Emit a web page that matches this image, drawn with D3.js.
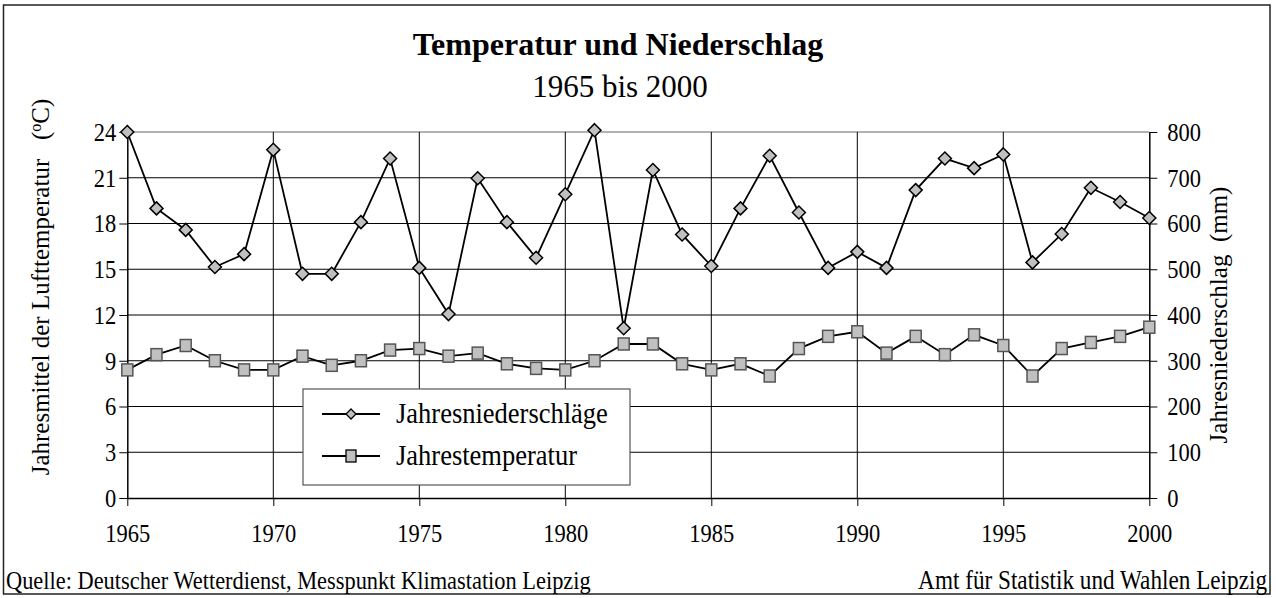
<!DOCTYPE html>
<html>
<head>
<meta charset="utf-8">
<script src="https://cdn.jsdelivr.net/npm/d3@7"></script>
<style>
  body { margin: 0; background: #fff; }
  svg text { font-family: "Liberation Serif", "Times New Roman", serif; fill: #000; }
</style>
</head>
<body>
<script>

// data
var years = [1965, 1966, 1967, 1968, 1969, 1970, 1971, 1972, 1973, 1974, 1975, 1976,
             1977, 1978, 1979, 1980, 1981, 1982, 1983, 1984, 1985, 1986, 1987, 1988,
             1989, 1990, 1991, 1992, 1993, 1994, 1995, 1996, 1997, 1998, 1999, 2000];

// Jahresniederschläge (mm), right axis
var precipitation = [800, 633, 586, 505, 533, 761, 490, 490, 603, 742, 503, 402,
                     699, 603, 525, 664, 804, 371, 717, 576, 507, 633, 748, 624,
                     503, 538, 503, 673, 742, 721, 751, 515, 577, 678, 647, 612];

// Jahrestemperatur (°C), left axis
var temperature = [8.4, 9.4, 10.0, 9.0, 8.4, 8.4, 9.3, 8.7, 9.0, 9.7, 9.8, 9.3,
                   9.5, 8.8, 8.5, 8.4, 9.0, 10.1, 10.1, 8.8, 8.4, 8.8, 8.0, 9.8,
                   10.6, 10.9, 9.5, 10.6, 9.4, 10.7, 10.0, 8.0, 9.8, 10.2, 10.6, 11.2];

var xTicks = [1965, 1970, 1975, 1980, 1985, 1990, 1995, 2000];
var leftTicks = [0, 3, 6, 9, 12, 15, 18, 21, 24];
var rightTicks = [0, 100, 200, 300, 400, 500, 600, 700, 800];

var w = 1276;
var h = 598;

// plot area
var plotLeft = 127.3, plotRight = 1149.3, plotTop = 132, plotBottom = 498;

// the source picture is a bit stretched vertically
var stretch = "scale(1,1.15)";

var svg = d3.select("body")
            .append("svg")
            .attr("width", w)
            .attr("height", h);

// outer frame
svg.append("rect")
   .attr("x", 3.5).attr("y", 5)
   .attr("width", 1266.5).attr("height", 589)
   .attr("fill", "#fff")
   .attr("stroke", "#222")
   .attr("stroke-width", 1.5);

var xScale = d3.scaleLinear().domain([1965, 2000]).range([plotLeft, plotRight]);
var yLeft = d3.scaleLinear().domain([0, 24]).range([plotBottom, plotTop]);
var yRight = d3.scaleLinear().domain([0, 800]).range([plotBottom, plotTop]);

// horizontal gridlines
svg.append("g")
   .selectAll("line")
   .data(leftTicks.slice(1, -1))
   .enter()
   .append("line")
   .attr("x1", plotLeft).attr("x2", plotRight)
   .attr("y1", function(d) { return yLeft(d); })
   .attr("y2", function(d) { return yLeft(d); })
   .attr("stroke", "#000")
   .attr("stroke-width", 1);

// top border of plot area (grey)
svg.append("line")
   .attr("x1", plotLeft).attr("x2", plotRight)
   .attr("y1", yLeft(24)).attr("y2", yLeft(24))
   .attr("stroke", "#999")
   .attr("stroke-width", 1.5);

// vertical gridlines
svg.append("g")
   .selectAll("line")
   .data(xTicks.slice(1, -1))
   .enter()
   .append("line")
   .attr("x1", function(d) { return xScale(d); })
   .attr("x2", function(d) { return xScale(d); })
   .attr("y1", plotTop).attr("y2", plotBottom)
   .attr("stroke", "#000")
   .attr("stroke-width", 1);

// axes
var xAxis = d3.axisBottom(xScale).tickValues(xTicks).tickSize(8).tickSizeOuter(0)
              .tickPadding(14).tickFormat(d3.format("d"));
var lAxis = d3.axisLeft(yLeft).tickValues(leftTicks).tickSize(8).tickSizeOuter(0).tickPadding(3);
var rAxis = d3.axisRight(yRight).tickValues(rightTicks).tickSize(8).tickSizeOuter(0).tickPadding(10);

function styleAxis(g) {
    g.select(".domain").attr("stroke", "#000").attr("stroke-width", 1.5);
    g.selectAll(".tick line").attr("stroke", "#000").attr("stroke-width", 1);
    g.selectAll(".tick text")
     .style("font-size", "22.5px")
     .attr("fill", "#000")
     .attr("transform", stretch);
}

svg.append("g")
   .attr("transform", "translate(0," + plotBottom + ")")
   .call(xAxis)
   .call(styleAxis);

svg.append("g")
   .attr("transform", "translate(" + plotLeft + ",0)")
   .call(lAxis)
   .call(styleAxis);

svg.append("g")
   .attr("transform", "translate(" + plotRight + ",0)")
   .call(rAxis)
   .call(styleAxis);

// lines
var precipLine = d3.line()
    .x(function(d, i) { return xScale(years[i]); })
    .y(function(d) { return yRight(d); });

var tempLine = d3.line()
    .x(function(d, i) { return xScale(years[i]); })
    .y(function(d) { return yLeft(d); });

svg.append("path")
   .datum(temperature)
   .attr("d", tempLine)
   .attr("fill", "none")
   .attr("stroke", "#000")
   .attr("stroke-width", 1.8);

svg.append("path")
   .datum(precipitation)
   .attr("d", precipLine)
   .attr("fill", "none")
   .attr("stroke", "#000")
   .attr("stroke-width", 1.8);

// markers
var diamond = "M0,-6.5L6.5,0L0,6.5L-6.5,0Z";

svg.append("g")
   .selectAll("rect")
   .data(temperature)
   .enter()
   .append("rect")
   .attr("x", function(d, i) { return xScale(years[i]) - 5.5; })
   .attr("y", function(d) { return yLeft(d) - 6; })
   .attr("width", 11)
   .attr("height", 12)
   .attr("fill", "#c0c0c0")
   .attr("stroke", "#555")
   .attr("stroke-width", 1.5);

svg.append("g")
   .selectAll("path")
   .data(precipitation)
   .enter()
   .append("path")
   .attr("d", diamond)
   .attr("transform", function(d, i) {
       return "translate(" + xScale(years[i]) + "," + yRight(d) + ")";
   })
   .attr("fill", "#c0c0c0")
   .attr("stroke", "#000")
   .attr("stroke-width", 1.5);

// title
svg.append("text")
   .attr("x", 618).attr("y", 55)
   .attr("text-anchor", "middle")
   .style("font-size", "32px")
   .style("font-weight", "bold")
   .text("Temperatur und Niederschlag");

svg.append("text")
   .attr("x", 620).attr("y", 97)
   .attr("text-anchor", "middle")
   .style("font-size", "31px")
   .text("1965 bis 2000");

// left axis title
var lt = svg.append("text")
   .attr("transform", "translate(49,287) rotate(-90)")
   .attr("text-anchor", "middle")
   .style("font-size", "25px");
lt.append("tspan").text("Jahresmittel der Lufttemperatur\u00a0\u00a0\u00a0(");
lt.append("tspan").attr("baseline-shift", "super").style("font-size", "16px").text("o");
lt.append("tspan").text("C)");

// right axis title
svg.append("text")
   .attr("transform", "translate(1227,315) rotate(-90)")
   .attr("text-anchor", "middle")
   .style("font-size", "25px")
   .text("Jahresniederschlag\u00a0\u00a0(mm)");

// legend
var legend = svg.append("g");
legend.append("rect")
   .attr("x", 303).attr("y", 389)
   .attr("width", 327).attr("height", 96)
   .attr("fill", "#fff")
   .attr("stroke", "#555")
   .attr("stroke-width", 1.2);

var legendItems = ["Jahresniederschläge", "Jahrestemperatur"];
legendItems.forEach(function(name, i) {
    var ly = 414 + i * 42;
    legend.append("line")
       .attr("x1", 322).attr("x2", 380)
       .attr("y1", ly).attr("y2", ly)
       .attr("stroke", "#000").attr("stroke-width", 1.8);
    if (i == 0) {
        legend.append("path")
           .attr("d", "M0,-5L5,0L0,5L-5,0Z")
           .attr("transform", "translate(351," + ly + ")")
           .attr("fill", "#c0c0c0").attr("stroke", "#000").attr("stroke-width", 1.3);
    } else {
        legend.append("rect")
           .attr("x", 346).attr("y", ly - 6)
           .attr("width", 10).attr("height", 12)
           .attr("fill", "#c0c0c0").attr("stroke", "#000").attr("stroke-width", 1.3);
    }
    legend.append("text")
       .attr("transform", "translate(396," + (ly + 9) + ") scale(1,1.08)")
       .style("font-size", "26.5px")
       .text(name);
});

// footer
svg.append("text")
   .attr("transform", "translate(6,589) " + stretch)
   .style("font-size", "22.4px")
   .text("Quelle: Deutscher Wetterdienst, Messpunkt Klimastation Leipzig");

svg.append("text")
   .attr("transform", "translate(1267,589) " + stretch)
   .attr("text-anchor", "end")
   .style("font-size", "23.2px")
   .text("Amt für Statistik und Wahlen Leipzig");

</script>
</body>
</html>
